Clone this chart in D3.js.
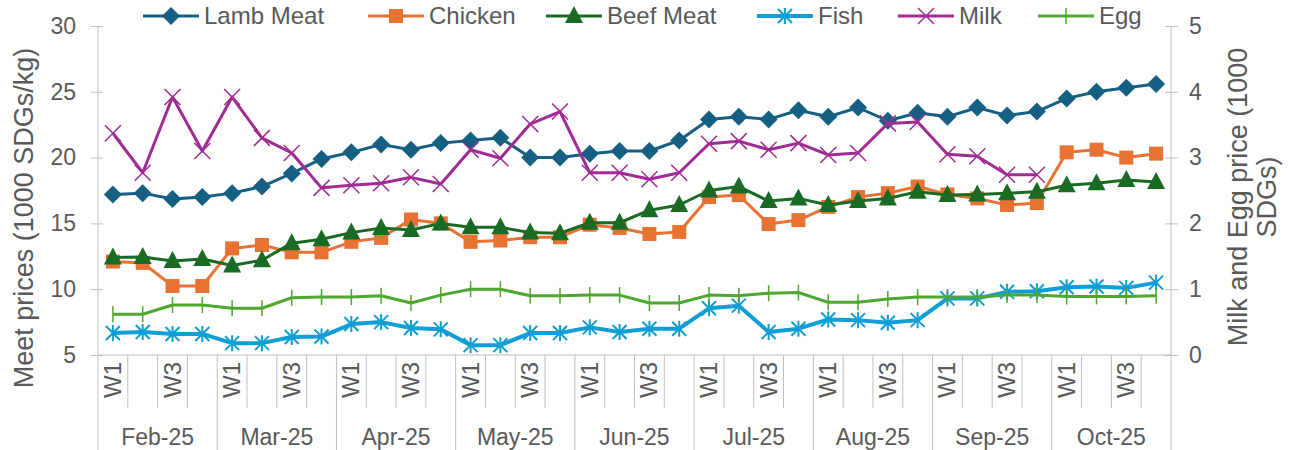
<!DOCTYPE html>
<html>
<head>
<meta charset="utf-8">
<script src="https://cdn.jsdelivr.net/npm/d3@7"></script>
<style>
  body { margin: 0; background: #fff; }
  svg text { font-family: "Liberation Sans", Arial, sans-serif; fill: #595959; }
</style>
</head>
<body>
<div class="viewport"></div>
<script>
var months = ["Feb-25", "Mar-25", "Apr-25", "May-25", "Jun-25", "Jul-25", "Aug-25", "Sep-25", "Oct-25"];
var weeks = ["W1", "W2", "W3", "W4"];

var lamb = [17.2, 17.3, 16.85, 17.0, 17.3, 17.8, 18.8, 19.9, 20.4, 21.0, 20.6, 21.1,
            21.3, 21.5, 20.0, 20.0, 20.3, 20.5, 20.5, 21.3, 22.9, 23.1, 22.9, 23.6,
            23.1, 23.8, 22.8, 23.4, 23.1, 23.8, 23.2, 23.5, 24.5, 25.0, 25.3, 25.6];
var chicken = [12.1, 12.0, 10.24, 10.24, 13.1, 13.36, 12.8, 12.8, 13.6, 13.9, 15.3, 15.0,
               13.6, 13.7, 13.95, 13.95, 14.9, 14.65, 14.2, 14.35, 17.0, 17.15, 14.95, 15.25,
               16.25, 17.0, 17.3, 17.8, 17.2, 16.9, 16.4, 16.55, 20.4, 20.6, 20.0, 20.3];
var beef = [12.4, 12.45, 12.15, 12.3, 11.8, 12.2, 13.5, 13.8, 14.3, 14.65, 14.5, 15.0,
            14.7, 14.7, 14.3, 14.25, 15.05, 15.05, 16.0, 16.4, 17.5, 17.8, 16.7, 16.9,
            16.4, 16.7, 16.9, 17.4, 17.15, 17.2, 17.3, 17.4, 17.9, 18.05, 18.3, 18.15];
var fish = [6.67, 6.75, 6.6, 6.6, 5.9, 5.9, 6.37, 6.4, 7.35, 7.5, 7.05, 6.95,
            5.75, 5.75, 6.67, 6.67, 7.1, 6.75, 7.0, 7.0, 8.55, 8.75, 6.75, 7.0,
            7.7, 7.65, 7.45, 7.65, 9.3, 9.3, 9.8, 9.85, 10.15, 10.2, 10.1, 10.5];
var milk = [3.37, 2.77, 3.92, 3.10, 3.92, 3.30, 3.07, 2.54, 2.58, 2.61, 2.70, 2.60,
            3.12, 2.99, 3.51, 3.70, 2.77, 2.77, 2.67, 2.77, 3.21, 3.25, 3.12, 3.22,
            3.04, 3.07, 3.52, 3.54, 3.05, 3.02, 2.74, 2.74, null, null, null, null];
var egg = [0.62, 0.62, 0.76, 0.76, 0.71, 0.71, 0.87, 0.88, 0.88, 0.90, 0.79, 0.91,
           1.0, 1.0, 0.90, 0.90, 0.91, 0.91, 0.79, 0.79, 0.91, 0.90, 0.94, 0.95,
           0.80, 0.80, 0.85, 0.88, 0.88, 0.88, 0.91, 0.91, 0.89, 0.89, 0.89, 0.90];

var leftTicks = [5, 10, 15, 20, 25, 30];
var rightTicks = [0, 1, 2, 3, 4, 5];

var series = [
    { name: "Lamb Meat", values: lamb, color: "#156082", marker: "diamond", axis: "L", width: 3 },
    { name: "Chicken", values: chicken, color: "#E97132", marker: "square", axis: "L", width: 3 },
    { name: "Beef Meat", values: beef, color: "#196B24", marker: "triangle", axis: "L", width: 3 },
    { name: "Fish", values: fish, color: "#0F9ED5", marker: "star", axis: "L", width: 4 },
    { name: "Milk", values: milk, color: "#A02B93", marker: "x", axis: "R", width: 3 },
    { name: "Egg", values: egg, color: "#4EA72E", marker: "plus", axis: "R", width: 3 }
];

function letsGo() {

    var width = 1290,
        height = 450;

    var left = 98, right = 1171, top = 26, bottom = 355;
    var fs = 23;

    var cats = [];
    months.forEach(function (m) {
        weeks.forEach(function (w) { cats.push(m + "|" + w); });
    });

    var x = d3.scaleBand().domain(d3.range(cats.length)).range([left, right]);
    var yL = d3.scaleLinear().domain([5, 30]).range([bottom, top]);
    var yR = d3.scaleLinear().domain([0, 5]).range([bottom, top]);

    var svg = d3.select(".viewport").append("svg")
        .attr("width", width)
        .attr("height", height);

    var grey = "#bfbfbf";

    // left axis
    var ax = d3.axisLeft(yL).tickValues(leftTicks).tickSize(8).tickPadding(14);
    var gL = svg.append("g").attr("transform", "translate(" + left + ",0)").call(ax);
    gL.select(".domain").remove();
    gL.selectAll(".tick line").attr("stroke", grey).attr("x2", -7).attr("x1", 5);
    gL.selectAll(".tick text").attr("font-size", fs).style("fill", "#595959");

    var axR = d3.axisRight(yR).tickValues(rightTicks).tickFormat(d3.format("d")).tickSize(8).tickPadding(10);
    var gR = svg.append("g").attr("transform", "translate(" + right + ",0)").call(axR);
    gR.select(".domain").remove();
    gR.selectAll(".tick line").attr("stroke", grey).attr("x1", -6).attr("x2", 7);
    gR.selectAll(".tick text").attr("font-size", fs).style("fill", "#595959");

    // axis lines
    svg.append("line").attr("x1", left).attr("x2", left).attr("y1", top).attr("y2", height)
        .attr("stroke", grey);
    svg.append("line").attr("x1", right).attr("x2", right).attr("y1", top).attr("y2", height)
        .attr("stroke", grey);
    svg.append("line").attr("x1", left).attr("x2", right).attr("y1", bottom).attr("y2", bottom)
        .attr("stroke", grey);

    // category ticks and labels
    var bw = x.bandwidth();
    cats.forEach(function (c, i) {
        var wk = i % 4;
        if (i > 0) {
            svg.append("line")
                .attr("x1", x(i)).attr("x2", x(i))
                .attr("y1", bottom).attr("y2", wk === 0 ? height : 408)
                .attr("stroke", grey);
        }
        if (wk === 0 || wk === 2) {
            var cx = x(i) + bw / 2;
            svg.append("text")
                .attr("transform", "translate(" + (cx + 8) + ",362) rotate(-90)")
                .attr("text-anchor", "end")
                .attr("font-size", 24)
                .text(weeks[wk]);
        }
    });

    months.forEach(function (m, k) {
        var mx = (x(k * 4) + x(k * 4 + 3) + bw) / 2;
        svg.append("text")
            .attr("x", mx).attr("y", 445)
            .attr("text-anchor", "middle")
            .attr("font-size", fs)
            .text(m);
    });

    // axis titles
    svg.append("text")
        .attr("transform", "translate(33,218) rotate(-90)")
        .attr("text-anchor", "middle")
        .attr("font-size", 27)
        .text("Meet prices (1000 SDGs/kg)");

    var rt = svg.append("text")
        .attr("transform", "translate(1228,197) rotate(-90)")
        .attr("text-anchor", "middle")
        .attr("font-size", 27);
    rt.append("tspan").attr("x", 0).attr("dy", 19).text("Milk and Egg price (1000");
    rt.append("tspan").attr("x", 0).attr("dy", 29).text("SDGs)");

    // series
    series.forEach(function (s) {
        var y = s.axis === "L" ? yL : yR;
        var line = d3.line()
            .defined(function (d) { return d != null; })
            .x(function (d, i) { return x(i) + bw / 2; })
            .y(function (d) { return y(d); });

        svg.append("path")
            .datum(s.values)
            .attr("fill", "none")
            .attr("stroke", s.color)
            .attr("stroke-width", s.width)
            .attr("stroke-linejoin", "round")
            .attr("d", line);

        s.values.forEach(function (d, i) {
            if (d == null) return;
            drawMarker(svg, s.marker, x(i) + bw / 2, y(d), s.color, 1);
        });
    });

    // legend
    var legendX = [143, 368, 546, 757, 898, 1038];
    series.forEach(function (s, i) {
        var lx = legendX[i], ly = 16;
        svg.append("line")
            .attr("x1", lx).attr("x2", lx + 56)
            .attr("y1", ly).attr("y2", ly)
            .attr("stroke", s.color)
            .attr("stroke-width", s.width);
        drawMarker(svg, s.marker, lx + 28, ly, s.color, 1);
        svg.append("text")
            .attr("x", lx + 61).attr("y", ly + 8)
            .attr("font-size", 24)
            .text(s.name);
    });

    function drawMarker(g, type, cx, cy, color, k) {
        var r = 7 * k;
        if (type === "diamond") {
            g.append("path")
                .attr("d", "M" + cx + "," + (cy - r - 2) + "L" + (cx + r + 2) + "," + cy +
                    "L" + cx + "," + (cy + r + 2) + "L" + (cx - r - 2) + "," + cy + "Z")
                .attr("fill", color);
        } else if (type === "square") {
            g.append("rect")
                .attr("x", cx - r).attr("y", cy - r)
                .attr("width", 2 * r).attr("height", 2 * r)
                .attr("fill", color);
        } else if (type === "triangle") {
            g.append("path")
                .attr("d", "M" + cx + "," + (cy - r - 3) + "L" + (cx + r + 2) + "," + (cy + r) +
                    "L" + (cx - r - 2) + "," + (cy + r) + "Z")
                .attr("fill", color);
        } else if (type === "star") {
            var p = "M" + (cx - r) + "," + (cy - r) + "L" + (cx + r) + "," + (cy + r) +
                "M" + (cx + r) + "," + (cy - r) + "L" + (cx - r) + "," + (cy + r) +
                "M" + cx + "," + (cy - r - 1) + "L" + cx + "," + (cy + r + 1);
            g.append("path").attr("d", p).attr("stroke", color).attr("stroke-width", 2).attr("fill", "none");
        } else if (type === "x") {
            var q = "M" + (cx - r - 1) + "," + (cy - r - 1) + "L" + (cx + r + 1) + "," + (cy + r + 1) +
                "M" + (cx + r + 1) + "," + (cy - r - 1) + "L" + (cx - r - 1) + "," + (cy + r + 1);
            g.append("path").attr("d", q).attr("stroke", color).attr("stroke-width", 1.5).attr("fill", "none");
        } else if (type === "plus") {
            var t = "M" + cx + "," + (cy - r - 1) + "L" + cx + "," + (cy + r + 1);
            g.append("path").attr("d", t).attr("stroke", color).attr("stroke-width", 1.5).attr("fill", "none");
        }
    }
}

letsGo();
</script>
</body>
</html>
